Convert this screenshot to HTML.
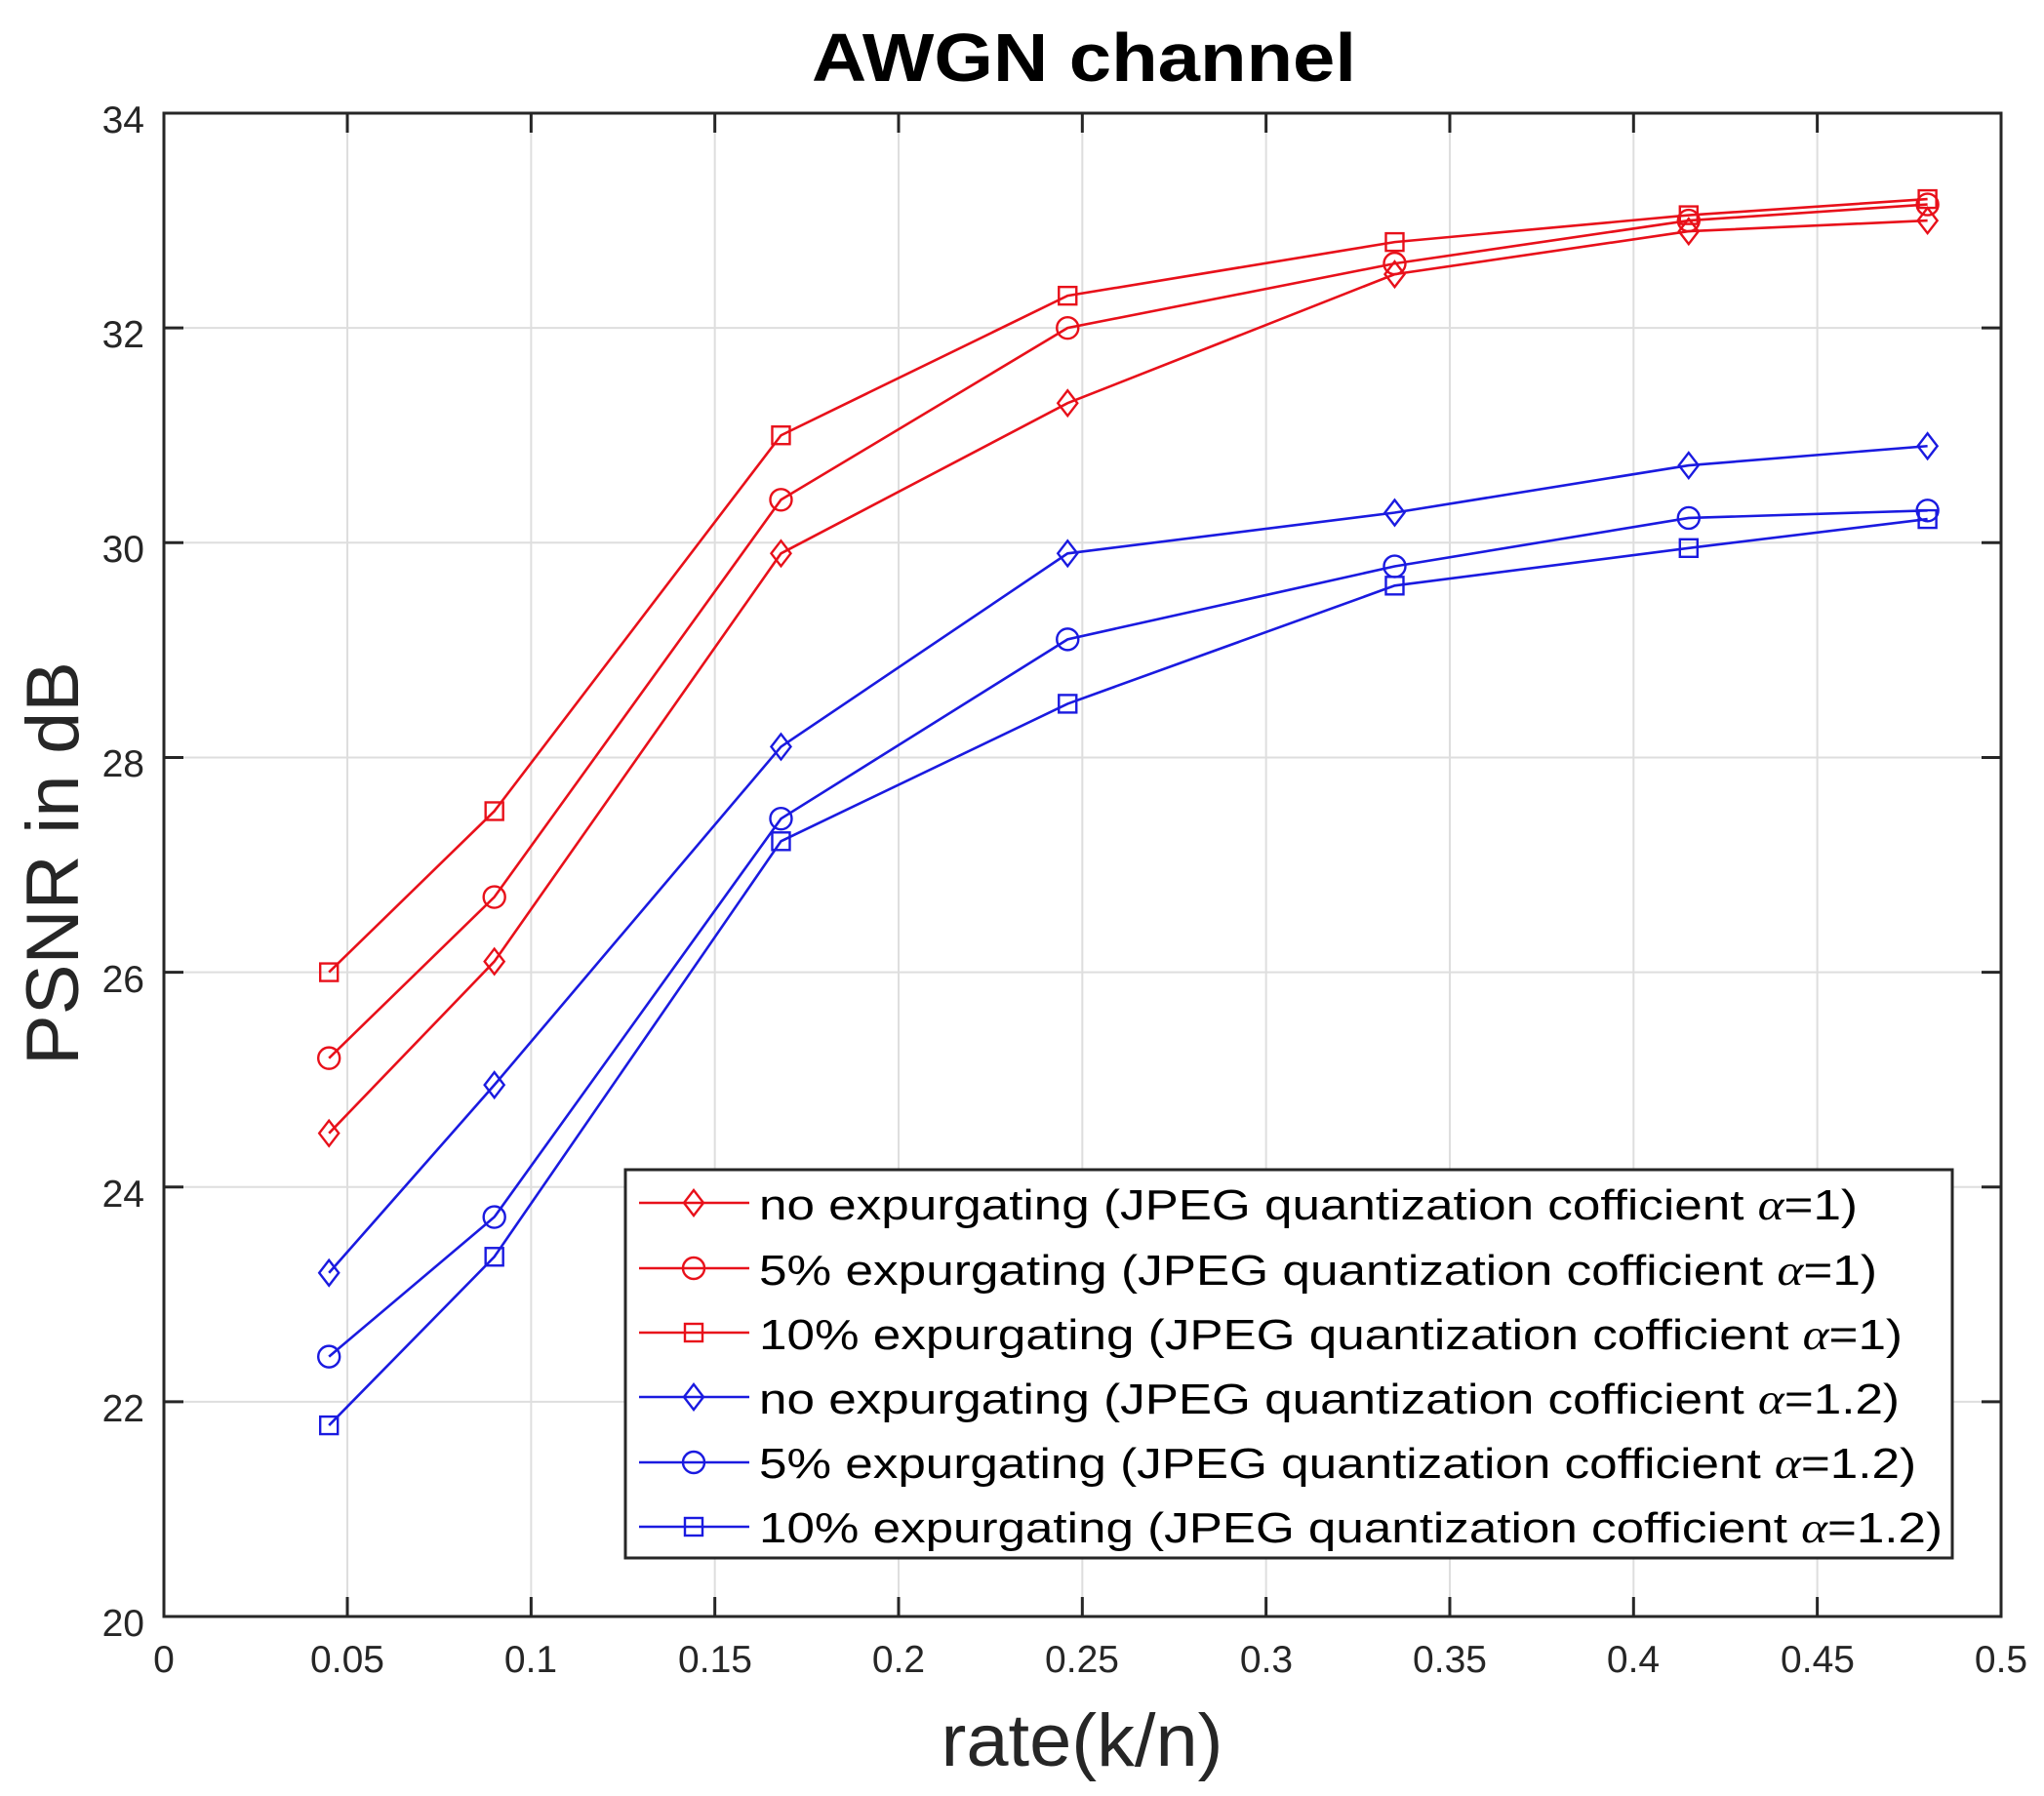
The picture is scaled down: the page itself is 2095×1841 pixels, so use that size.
<!DOCTYPE html>
<html><head><meta charset="utf-8"><style>
html,body{margin:0;padding:0;background:#fff;}
svg{display:block;font-family:"Liberation Sans",Arial,sans-serif;}
</style></head><body>
<svg id="s" width="2095" height="1841" viewBox="0 0 2095 1841" xmlns="http://www.w3.org/2000/svg">
<rect width="2095" height="1841" fill="#fff"/>
<g id="grid" stroke="#dedede" stroke-width="2"></g>
<g id="data"></g>
<rect x="168" y="116" width="1883" height="1541" fill="none" stroke="#262626" stroke-width="3"/>
<g id="ticks" stroke="#262626" stroke-width="3"></g>
<g font-size="39" fill="#262626" text-anchor="end">
<text x="148" y="1677">20</text><text x="148" y="1457">22</text><text x="148" y="1237">24</text><text x="148" y="1017">26</text><text x="148" y="796">28</text><text x="148" y="576">30</text><text x="148" y="356">32</text><text x="148" y="136">34</text>
</g>
<g font-size="39" fill="#262626" text-anchor="middle">
<text x="168" y="1714">0</text><text x="356" y="1714">0.05</text><text x="544" y="1714">0.1</text><text x="733" y="1714">0.15</text><text x="921" y="1714">0.2</text><text x="1109" y="1714">0.25</text><text x="1298" y="1714">0.3</text><text x="1486" y="1714">0.35</text><text x="1674" y="1714">0.4</text><text x="1863" y="1714">0.45</text><text x="2051" y="1714">0.5</text>
</g>
<text x="1111" y="83" font-size="70" font-weight="bold" text-anchor="middle" textLength="558" lengthAdjust="spacingAndGlyphs">AWGN channel</text>
<text transform="translate(80,885) rotate(-90)" font-size="76" fill="#262626" text-anchor="middle" textLength="414" lengthAdjust="spacingAndGlyphs">PSNR in dB</text>
<text x="1109" y="1810" font-size="76" fill="#262626" text-anchor="middle" textLength="289" lengthAdjust="spacingAndGlyphs">rate(k/n)</text>
<rect x="641" y="1199" width="1360" height="398" fill="#fff" stroke="#262626" stroke-width="3"/>
<g id="leg"></g>
<g font-size="44" fill="#000">
<text x="778" y="1250" textLength="1126" lengthAdjust="spacingAndGlyphs">no expurgating (JPEG quantization cofficient <tspan font-style="italic" font-family="Liberation Serif">α</tspan>=1)</text>
<text x="778" y="1317" textLength="1146" lengthAdjust="spacingAndGlyphs">5% expurgating (JPEG quantization cofficient <tspan font-style="italic" font-family="Liberation Serif">α</tspan>=1)</text>
<text x="778" y="1383" textLength="1172" lengthAdjust="spacingAndGlyphs">10% expurgating (JPEG quantization cofficient <tspan font-style="italic" font-family="Liberation Serif">α</tspan>=1)</text>
<text x="778" y="1449" textLength="1169" lengthAdjust="spacingAndGlyphs">no expurgating (JPEG quantization cofficient <tspan font-style="italic" font-family="Liberation Serif">α</tspan>=1.2)</text>
<text x="778" y="1515" textLength="1186" lengthAdjust="spacingAndGlyphs">5% expurgating (JPEG quantization cofficient <tspan font-style="italic" font-family="Liberation Serif">α</tspan>=1.2)</text>
<text x="778" y="1581" textLength="1213" lengthAdjust="spacingAndGlyphs">10% expurgating (JPEG quantization cofficient <tspan font-style="italic" font-family="Liberation Serif">α</tspan>=1.2)</text>
</g>
</svg>
<script>
var NS="http://www.w3.org/2000/svg";
function X(v){return 167.7+v*3766.5;}
function Y(v){return 1657-(v-20)*110.07;}
function el(t,a,p){var e=document.createElementNS(NS,t);for(var k in a)e.setAttribute(k,a[k]);p.appendChild(e);return e;}
var grid=document.getElementById('grid'),ticks=document.getElementById('ticks'),data=document.getElementById('data'),leg=document.getElementById('leg');
for(var i=1;i<10;i++){var x=X(i*0.05);el('line',{x1:x,x2:x,y1:116,y2:1657},grid);el('line',{x1:x,x2:x,y1:1657,y2:1637},ticks);el('line',{x1:x,x2:x,y1:116,y2:136},ticks);}
for(var j=1;j<7;j++){var y=Y(20+2*j);el('line',{x1:168,x2:2051,y1:y,y2:y},grid);el('line',{x1:168,x2:188,y1:y,y2:y},ticks);el('line',{x1:2031,x2:2051,y1:y,y2:y},ticks);}
var xs=[0.045,0.09,0.168,0.246,0.335,0.415,0.48];
var S=[
["#e8101a","d",[24.5,26.1,29.9,31.3,32.5,32.9,33.0]],
["#e8101a","o",[25.2,26.7,30.4,32.0,32.6,33.0,33.15]],
["#e8101a","s",[26.0,27.5,31.0,32.3,32.8,33.05,33.2]],
["#1a1ae0","d",[23.2,24.95,28.1,29.9,30.28,30.72,30.9]],
["#1a1ae0","o",[22.42,23.72,27.43,29.1,29.78,30.23,30.3]],
["#1a1ae0","s",[21.78,23.35,27.22,28.5,29.6,29.95,30.22]]];
function mk(t,x,y,c,p){
 if(t=='d')el('path',{d:'M'+x+' '+(y-13)+'L'+(x+10)+' '+y+'L'+x+' '+(y+13)+'L'+(x-10)+' '+y+'Z',fill:'none',stroke:c,'stroke-width':2.4},p);
 else if(t=='o')el('circle',{cx:x,cy:y,r:11,fill:'none',stroke:c,'stroke-width':2.4},p);
 else el('rect',{x:x-9,y:y-9,width:18,height:18,fill:'none',stroke:c,'stroke-width':2.4},p);
}
S.forEach(function(s,k){
 var pts=xs.map(function(x,i){return X(x)+','+Y(s[2][i]);}).join(' ');
 el('polyline',{points:pts,fill:'none',stroke:s[0],'stroke-width':2.6},data);
 xs.forEach(function(x,i){mk(s[1],X(x),Y(s[2][i]),s[0],data);});
 var ly=[1233,1300,1366,1432,1499,1565][k];
 el('line',{x1:655,x2:768,y1:ly,y2:ly,stroke:s[0],'stroke-width':2.6},leg);
 mk(s[1],711,ly,s[0],leg);
});
</script>
</body></html>
